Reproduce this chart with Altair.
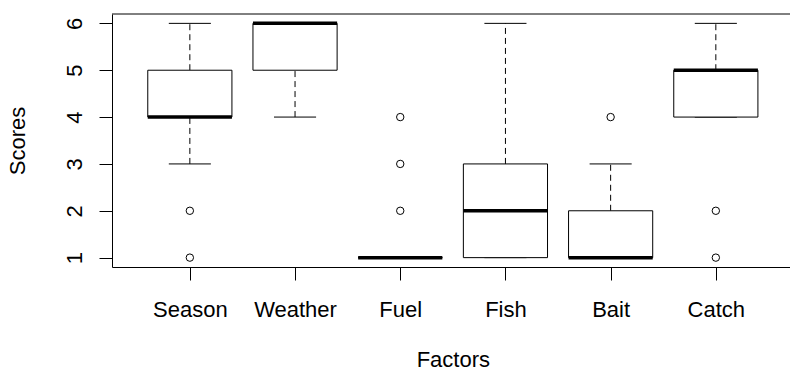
import altair as alt
import pandas as pd

# ---- data ----
factors = ["Season", "Weather", "Fuel", "Fish", "Bait", "Catch"]
whisker_low = [3, 4, 1, 1, 1, 4]
q1 = [4, 5, 1, 1, 1, 4]
median = [4, 6, 1, 2, 1, 5]
q3 = [5, 6, 1, 3, 2, 5]
whisker_high = [6, 6, 1, 6, 3, 6]
outlier_factor = ["Season", "Season", "Fuel", "Fuel", "Fuel", "Bait", "Catch", "Catch"]
outlier_value = [2, 1, 2, 3, 4, 4, 2, 1]
y_ticks = [1, 2, 3, 4, 5, 6]

pos = list(range(1, len(factors) + 1))
box = pd.DataFrame(dict(factor=factors, pos=pos, lo=whisker_low, q1=q1,
                        med=median, q3=q3, hi=whisker_high))
out = pd.DataFrame(dict(factor=outlier_factor, value=outlier_value))
out["pos"] = out["factor"].map({f: i + 1 for i, f in enumerate(factors)})

W, H = 678, 253
FONT = "Liberation Sans"
FS = 22

xs = alt.Scale(domain=[0.26, 6.705], nice=False, zero=False)
ys = alt.Scale(domain=[0.8, 6.2], nice=False, zero=False)

label_expr = "[" + ",".join("'%s'" % f for f in factors) + "][datum.value - 1]"

x_axis = alt.Axis(values=pos, labelExpr=label_expr, title="Factors", grid=False,
                  tickSize=13, tickColor="black", tickWidth=1,
                  domainColor="black", domainWidth=1,
                  labelAngle=0, labelAlign="center", labelBaseline="alphabetic",
                  labelPadding=36, labelFont=FONT, labelFontSize=FS, labelColor="black",
                  labelFlush=False, labelOverlap=False,
                  titleFont=FONT, titleFontSize=FS, titleFontWeight="normal",
                  titleColor="black", titleX=340.8, titleY=99,
                  titleAlign="center", titleBaseline="alphabetic")

y_axis = alt.Axis(values=y_ticks, title="Scores", grid=False,
                  tickSize=13, tickColor="black", tickWidth=1,
                  domainColor="black", domainWidth=1,
                  labelAngle=270, labelAlign="center", labelBaseline="alphabetic",
                  labelPadding=18, labelFont=FONT, labelFontSize=FS, labelColor="black",
                  labelFlush=False, labelOverlap=False,
                  titleFont=FONT, titleFontSize=FS, titleFontWeight="normal",
                  titleColor="black", titleAngle=270, titleX=-88, titleY=126.5,
                  titleAlign="center", titleBaseline="alphabetic")

base = alt.Chart(box).transform_calculate(
    left="datum.pos - 0.4", right="datum.pos + 0.4",
    capl="datum.pos - 0.2", capr="datum.pos + 0.2")

whisk_up = base.mark_rule(color="black", strokeWidth=1, strokeDash=[6, 4]).encode(
    x=alt.X("pos:Q", scale=xs, axis=x_axis),
    y=alt.Y("q3:Q", scale=ys, axis=y_axis), y2="hi:Q")
whisk_dn = base.mark_rule(color="black", strokeWidth=1, strokeDash=[6, 4]).encode(
    x=alt.X("pos:Q", scale=xs, axis=x_axis),
    y=alt.Y("lo:Q", scale=ys, axis=y_axis), y2="q1:Q")
cap_hi = base.mark_rule(color="black", strokeWidth=1).encode(
    x=alt.X("capl:Q", scale=xs, axis=x_axis), x2="capr:Q",
    y=alt.Y("hi:Q", scale=ys, axis=y_axis))
cap_lo = base.mark_rule(color="black", strokeWidth=1).encode(
    x=alt.X("capl:Q", scale=xs, axis=x_axis), x2="capr:Q",
    y=alt.Y("lo:Q", scale=ys, axis=y_axis))
boxes = base.mark_rect(fill="white", stroke="black", strokeWidth=1).encode(
    x=alt.X("left:Q", scale=xs, axis=x_axis), x2="right:Q",
    y=alt.Y("q1:Q", scale=ys, axis=y_axis), y2="q3:Q")
medians = base.mark_rule(color="black", strokeWidth=3.5, strokeCap="butt").encode(
    x=alt.X("left:Q", scale=xs, axis=x_axis), x2="right:Q",
    y=alt.Y("med:Q", scale=ys, axis=y_axis))
outliers = alt.Chart(out).mark_point(shape="circle", filled=False, size=55,
                                     stroke="black", strokeWidth=1, opacity=1).encode(
    x=alt.X("pos:Q", scale=xs, axis=x_axis),
    y=alt.Y("value:Q", scale=ys, axis=y_axis))
top_frame = alt.Chart(pd.DataFrame({"a": [0]})).mark_rule(color="black", strokeWidth=1).encode(
    x=alt.value(0), x2=alt.value(W), y=alt.value(0))

chart = alt.layer(whisk_up, whisk_dn, cap_hi, cap_lo, boxes, medians, outliers, top_frame).properties(
    width=W, height=H,
    autosize=alt.AutoSizeParams(type="none"),
    padding={"left": 112, "top": 14, "right": 0, "bottom": 104},
    background="white",
).configure_view(strokeWidth=0)

chart.save("out.html", embed_options={"renderer": "svg", "actions": False})
